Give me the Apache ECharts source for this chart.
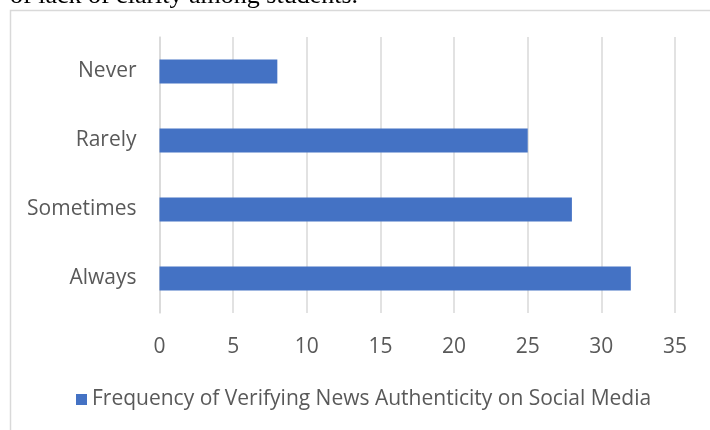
<!DOCTYPE html>
<html><head><meta charset="utf-8">
<script src="https://cdn.jsdelivr.net/npm/echarts@6/dist/echarts.min.js"></script>
<style>html,body{margin:0;padding:0;background:#fff}#c{width:710px;height:430px}</style>
</head><body><div id="c"></div>
<script>
const categories = ['Always', 'Sometimes', 'Rarely', 'Never'];
const values = [32, 28, 25, 8];
const seriesName = 'Frequency of Verifying News Authenticity on Social Media';
const xTicks = [0, 5, 10, 15, 20, 25, 30, 35];
const headerText = 'of lack of clarity among students.';

const chart = echarts.init(document.getElementById('c'), null, {renderer: 'canvas'});
const font = 'Open Sans';
chart.setOption({
  animation: false,
  backgroundColor: '#fff',
  graphic: [
    {type: 'rect', shape: {x: 10.5, y: 10.5, width: 720, height: 440}, style: {fill: 'none', stroke: '#d9d9d9', lineWidth: 1.5}, z: -1},
    {type: 'text', left: 10, top: -17, style: {text: headerText, font: '26px "Liberation Serif"', fill: '#000'}}
  ],
  legend: {
    bottom: 15, left: 71,
    itemWidth: 11, itemHeight: 11, itemGap: 8,
    icon: 'rect',
    textStyle: {fontFamily: font, fontSize: 21, color: '#595959'},
    data: [seriesName]
  },
  grid: {left: 159.5, right: 35, top: 37, bottom: 117, containLabel: false},
  xAxis: {
    type: 'value', min: xTicks[0], max: xTicks[xTicks.length - 1], interval: 5,
    axisLine: {show: false}, axisTick: {show: false},
    splitLine: {lineStyle: {color: '#d9d9d9', width: 1.5}},
    axisLabel: {fontFamily: font, fontSize: 21, color: '#595959', margin: 24}
  },
  yAxis: {
    type: 'category', data: categories,
    axisLine: {show: true, lineStyle: {color: '#d9d9d9', width: 1.5}},
    axisTick: {show: false},
    axisLabel: {fontFamily: font, fontSize: 21, color: '#595959', margin: 23}
  },
  series: [{
    name: seriesName, type: 'bar', data: values, barWidth: 24,
    itemStyle: {color: '#4472c4'}
  }]
});
</script></body></html>
